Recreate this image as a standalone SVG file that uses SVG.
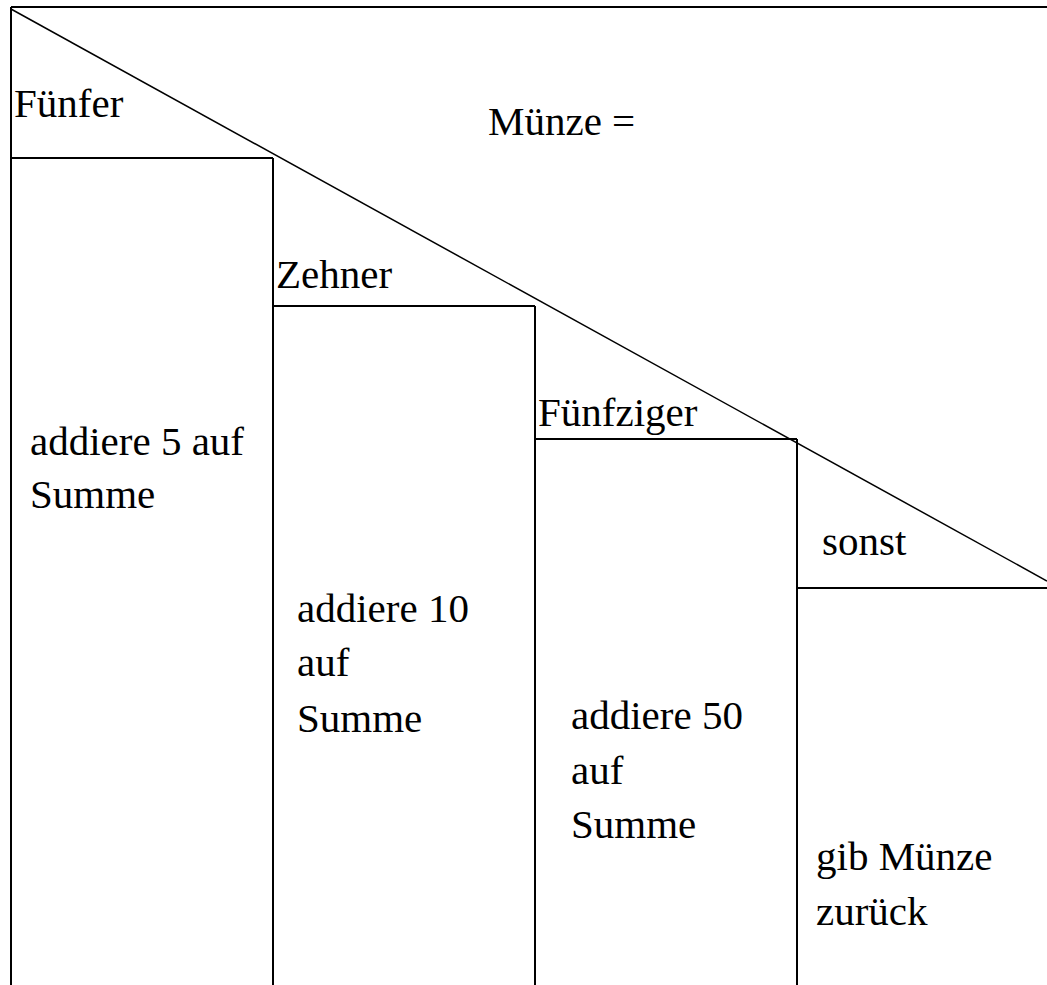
<svg xmlns="http://www.w3.org/2000/svg" width="1047" height="985" viewBox="0 0 1047 985">
<style>
.ln{stroke:#000;stroke-width:2;fill:none}
.dg{stroke:#000;stroke-width:1.5;fill:none}
.t{font-size:41px;fill:#000}
</style>
<rect width="1047" height="985" fill="#fff"/>
<g id="connectors">
<line class="ln" x1="11" y1="7" x2="1047" y2="7"/>
<line class="ln" x1="11" y1="7" x2="11" y2="985"/>
<line class="dg" x1="11" y1="9" x2="1047" y2="581"/>
<line class="ln" x1="11" y1="158" x2="273" y2="158"/>
<line class="ln" x1="273" y1="158" x2="273" y2="985"/>
<line class="ln" x1="273" y1="306" x2="535" y2="306"/>
<line class="ln" x1="535" y1="306" x2="535" y2="985"/>
<line class="ln" x1="535" y1="439" x2="797" y2="439"/>
<line class="ln" x1="797" y1="439" x2="797" y2="985"/>
<line class="ln" x1="797" y1="588" x2="1047" y2="588"/>
</g>
<g class="t" font-family="Liberation Serif, Times New Roman, Times, DejaVu Serif, serif">
<g id="header"><text x="488" y="135">Münze =</text></g>
<g id="case1"><text x="14" y="117">Fünfer</text><text x="30" y="455">addiere 5 auf</text><text x="30" y="508">Summe</text></g>
<g id="case2"><text x="276" y="288">Zehner</text><text x="297" y="622">addiere 10</text><text x="297" y="676">auf</text><text x="297" y="732">Summe</text></g>
<g id="case3"><text x="538" y="426">Fünfziger</text><text x="571" y="729">addiere 50</text><text x="571" y="784">auf</text><text x="571" y="838">Summe</text></g>
<g id="case4"><text x="822" y="555">sonst</text><text x="816" y="870">gib Münze</text><text x="816" y="925">zurück</text></g>
</g>
</svg>
